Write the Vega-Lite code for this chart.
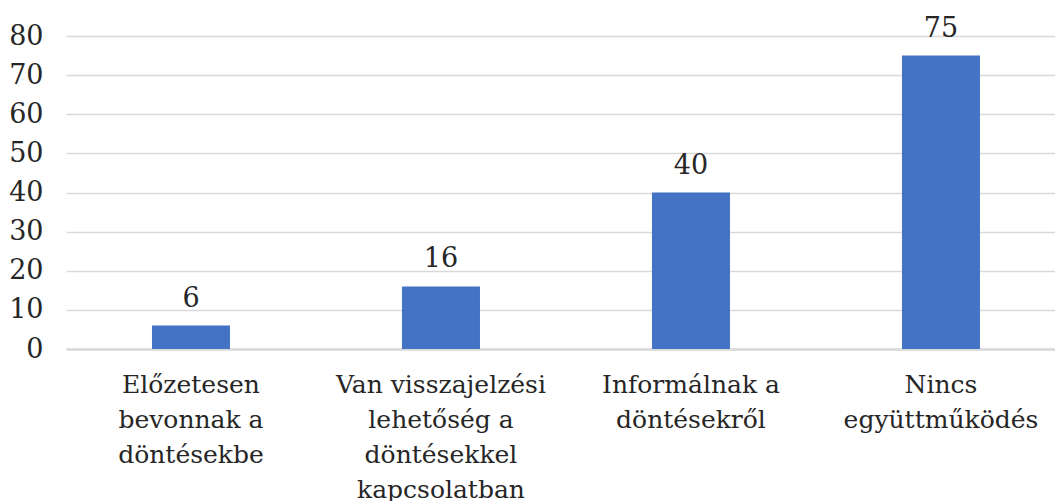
{
  "$schema": "https://vega.github.io/schema/vega-lite/v6.json",
  "autosize": {"type": "none"},
  "padding": {"left": 66, "top": 36, "right": 0, "bottom": 152},
  "width": 989,
  "height": 313,
  "background": "white",
  "config": {
    "view": {"stroke": null},
    "font": "DejaVu Serif"
  },
  "data": {
    "values": [
      {"category": "Előzetesen\nbevonnak a\ndöntésekbe", "value": 6},
      {"category": "Van visszajelzési\nlehetőség a\ndöntésekkel\nkapcsolatban", "value": 16},
      {"category": "Informálnak a\ndöntésekről", "value": 40},
      {"category": "Nincs\negyüttműködés", "value": 75}
    ]
  },
  "encoding": {
    "x": {
      "field": "category",
      "type": "nominal",
      "sort": null,
      "title": null,
      "scale": {"paddingInner": 0.688, "paddingOuter": 0.322, "align": 0.534},
      "axis": {
        "labelAngle": 0,
        "labelExpr": "split(datum.value, '\\n')",
        "labelFont": "DejaVu Serif",
        "labelFontSize": 25,
        "labelColor": "#262626",
        "labelLineHeight": 35,
        "labelPadding": 23,
        "labelBaseline": "top",
        "labelLimit": 400,
        "ticks": false,
        "domainColor": "#D9D9D9",
        "domainWidth": 2.5,
        "grid": false
      }
    },
    "y": {
      "field": "value",
      "type": "quantitative",
      "title": null,
      "scale": {"domain": [0, 80], "nice": false},
      "axis": {
        "values": [0, 10, 20, 30, 40, 50, 60, 70, 80],
        "labelFont": "DejaVu Serif",
        "labelFontSize": 27,
        "labelColor": "#262626",
        "labelPadding": 23,
        "ticks": false,
        "domain": false,
        "grid": true,
        "gridColor": "#D9D9D9",
        "gridWidth": 1.6
      }
    }
  },
  "layer": [
    {"mark": {"type": "bar", "color": "#4472C4"}},
    {
      "mark": {"type": "text", "baseline": "alphabetic", "dy": -19, "fontSize": 27, "font": "DejaVu Serif", "color": "#262626"},
      "encoding": {"text": {"field": "value", "type": "quantitative"}}
    }
  ]
}
